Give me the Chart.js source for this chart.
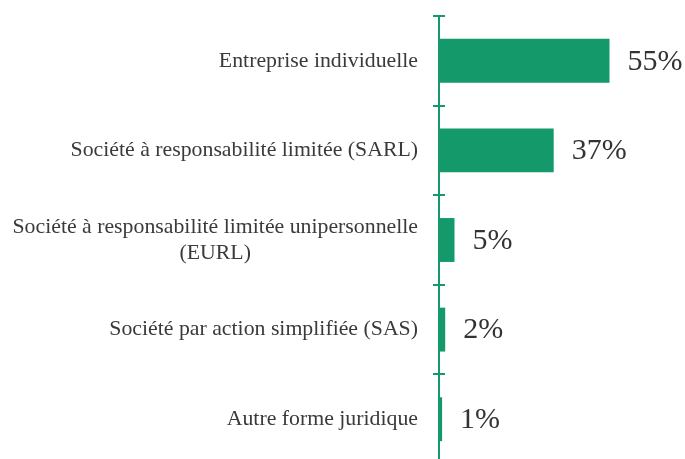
<!DOCTYPE html>
<html>
<head>
<meta charset="utf-8">
<script src="https://cdn.jsdelivr.net/npm/chart.js@4"></script>
<style>
  html, body { margin: 0; padding: 0; background: #fff; overflow: hidden; }
  #wrap { width: 685px; height: 464px; }
</style>
</head>
<body>
<div id="wrap"><canvas id="c"></canvas></div>
<script>
// data
const categories = [
  'Entreprise individuelle',
  'Société à responsabilité limitée (SARL)',
  ['Société à responsabilité limitée unipersonnelle', '(EURL)'],
  'Société par action simplifiée (SAS)',
  'Autre forme juridique'
];
const shares = [55, 37, 5, 2, 1];

const green = '#14996a';
const textColor = '#3a3a3a';
const serif = '"Liberation Serif", "DejaVu Serif", serif';

// draws category labels, small axis ticks and value labels
const decor = {
  id: 'decor',
  afterDatasetsDraw(chart) {
    const ctx = chart.ctx;
    const y = chart.scales.y;
    const x = chart.scales.x;
    const axisX = chart.chartArea.left;
    ctx.save();

    // tick marks between categories
    ctx.strokeStyle = green;
    ctx.lineWidth = 2;
    for (let i = 0; i <= categories.length; i++) {
      const py = Math.round(y.getPixelForValue(i - 0.5));
      ctx.beginPath();
      ctx.moveTo(axisX - 6, py);
      ctx.lineTo(axisX + 6, py);
      ctx.stroke();
    }

    // category labels
    ctx.fillStyle = textColor;
    ctx.font = '21.8px ' + serif;
    ctx.textBaseline = 'middle';
    const right = axisX - 21;
    categories.forEach((lab, i) => {
      const cy = y.getPixelForValue(i);
      const lines = Array.isArray(lab) ? lab : [lab];
      const widths = lines.map(l => ctx.measureText(l).width);
      const maxW = Math.max(...widths);
      const lh = 26;
      lines.forEach((l, k) => {
        const ly = cy + (k - (lines.length - 1) / 2) * lh;
        if (lines.length === 1) {
          ctx.textAlign = 'right';
          ctx.fillText(l, right, ly);
        } else {
          ctx.textAlign = 'center';
          ctx.fillText(l, right - maxW / 2, ly);
        }
      });
    });

    // value labels
    ctx.font = '30px ' + serif;
    ctx.textAlign = 'left';
    ctx.fillStyle = '#333';
    shares.forEach((v, i) => {
      ctx.fillText(v + '%', x.getPixelForValue(v) + 18, y.getPixelForValue(i) + 1);
    });
    ctx.restore();
  }
};

new Chart(document.getElementById('c'), {
  type: 'bar',
  data: {
    labels: categories,
    datasets: [{
      data: shares,
      backgroundColor: green,
      borderWidth: 0,
      categoryPercentage: 1,
      barPercentage: 0.49
    }]
  },
  options: {
    indexAxis: 'y',
    responsive: true,
    maintainAspectRatio: false,
    animation: false,
    layout: { padding: { top: 16, right: 60, bottom: 0, left: 0 } },
    plugins: { legend: { display: false }, tooltip: { enabled: false } },
    scales: {
      x: { display: false, min: 0, max: 60 },
      y: {
        ticks: { display: false },
        grid: { display: false },
        border: { display: true, color: green, width: 2 },
        afterFit(scale) { scale.width = 439; }
      }
    }
  },
  plugins: [decor]
});
</script>
</body>
</html>
